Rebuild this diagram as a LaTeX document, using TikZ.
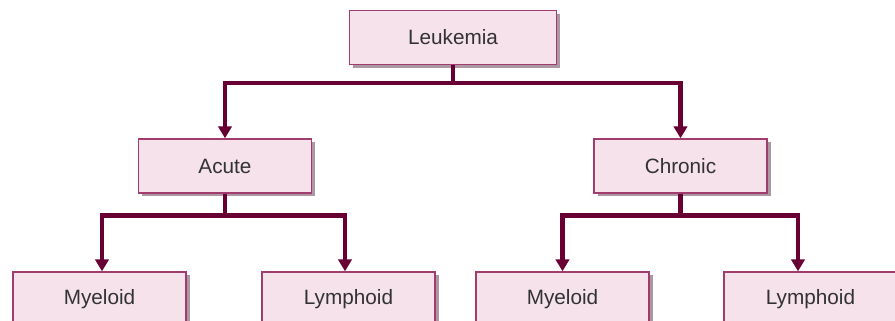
\documentclass[tikz,border=0pt]{standalone}
\usepackage{fontspec}
\setmainfont{Liberation Sans}
\usepackage{tikz}
\usetikzlibrary{arrows.meta,shadows}
\definecolor{figline}{RGB}{104,0,52}
\definecolor{figedge}{RGB}{160,60,110}
\definecolor{figfill}{RGB}{245,226,235}
\definecolor{figshade}{RGB}{172,152,162}
\definecolor{figtext}{RGB}{50,50,50}
\tikzset{
  box/.style  ={draw=figedge, line width=0.8pt, fill=figfill, text=figtext,
                minimum width=3.46cm, minimum height=1.08cm, inner sep=0pt,
                font=\fontsize{11.8}{14}\selectfont,
                drop shadow={shadow xshift=0.07cm, shadow yshift=-0.07cm, fill=figshade, opacity=1}},
  link/.style ={draw=figline, line width=2.5pt, -{Triangle[length=6.8pt,width=7.6pt]}},
}
\begin{document}
\begin{tikzpicture}
  \useasboundingbox (0,0) rectangle (17.9,6.42);
  \node[box,minimum width=4.14cm] (leuk) at (9.06,5.67) {Leukemia};
  \node[box] (acute) at (4.5,3.1) {Acute};
  \node[box] (chron) at (13.61,3.1) {Chronic};
  \node[box] (myA) at (1.99,0.44) {Myeloid};
  \node[box] (lyA) at (6.97,0.44) {Lymphoid};
  \node[box] (myC) at (11.25,0.44) {Myeloid};
  \node[box] (lyC) at (16.21,0.44) {Lymphoid};
  \draw[link] (leuk.south) -- ++(0,-0.36) -| (acute.north);
  \draw[link] (leuk.south) -- ++(0,-0.36) -| (chron.north);
  \draw[link] (acute.south) -- ++(0,-0.44) -| ([xshift=0.05cm]myA.north);
  \draw[link] (acute.south) -- ++(0,-0.44) -| ([xshift=-0.07cm]lyA.north);
  \draw[link] (chron.south) -- ++(0,-0.44) -| (myC.north);
  \draw[link] (chron.south) -- ++(0,-0.44) -| ([xshift=-0.25cm]lyC.north);
\end{tikzpicture}
\end{document}
